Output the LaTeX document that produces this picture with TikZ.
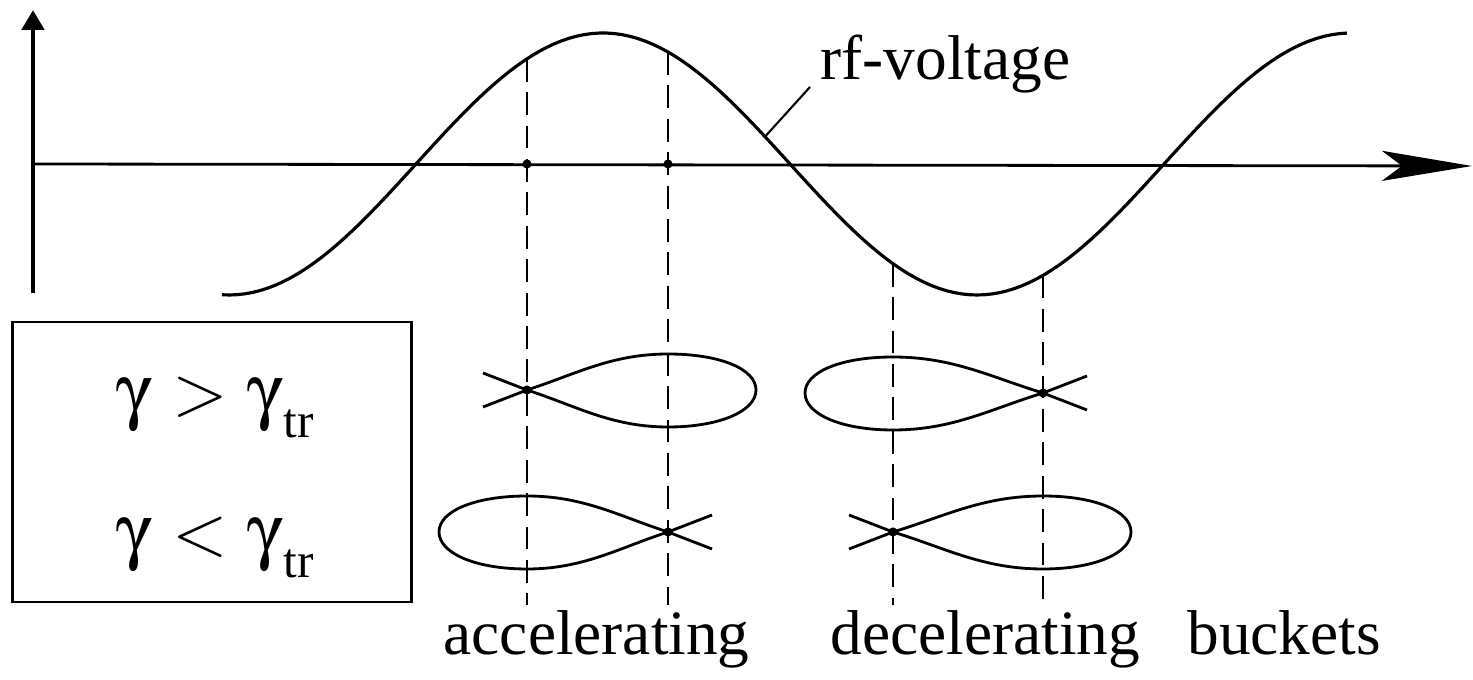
\documentclass[tikz,border=0pt]{standalone}
\usepackage[Symbol]{upgreek}
\usepackage{fontspec}
\setmainfont{Liberation Serif}
\usetikzlibrary{arrows.meta,positioning}
\newcommand{\gtrsub}{\raisebox{-6pt}{\fontsize{14}{14}\selectfont tr}}
\tikzset{
  axisline/.style={line width=0.8pt},
  rfcurve/.style={line width=0.9pt, line join=round},
  dashline/.style={line width=0.8pt, dash pattern=on 6.5pt off 3pt},
  lbl/.style={inner sep=0pt, font=\fontsize{18}{20}\selectfont},
  gam/.style={inner sep=0pt, font=\fontsize{21}{24}\selectfont},
  legbox/.style={draw, line width=0.8pt, minimum width=3.98cm, minimum height=2.8cm},
  pics/bucket/.style={code={
    \draw[line width=0.8pt] (0,0) .. controls (0.35*#1,-16) and (0.6*#1,-36) .. (#1,-36)
      .. controls (#1+52,-36) and (#1+88,-21) .. (#1+88,0)
      .. controls (#1+88,21) and (#1+52,37) .. (#1,37)
      .. controls (0.6*#1,37) and (0.35*#1,16) .. (0,0);
    \draw[line width=0.8pt] (-44,-17) -- (0,0) -- (-44,17);
    \fill (0,0) circle (1.3pt);
  }}
}

\begin{document}
\begin{tikzpicture}[x=0.01cm, y=-0.01cm]
\useasboundingbox (0,0) rectangle (1473,680);

% axes
\coordinate (orig) at (33,164);
\coordinate (ytop) at (33,10);
\coordinate (ybot) at (33,293);
\coordinate (xend) at (1472,166);
\draw[line width=1.4pt, -{Triangle[length=2mm, width=2.2mm]}] (ybot) -- (ytop);
\draw[axisline, -{Stealth[length=9mm, width=3mm, inset=2mm]}] (orig) -- (xend);

% rf voltage
\draw[rfcurve] plot[domain=222:1347, samples=150] (\x, {164-131*sin((\x-416)/748*360)});
\node[lbl, anchor=base west] (rflab) at (820,80) {rf-voltage};
\coordinate (rfpt) at (765, {164-131*sin((765-416)/748*360)});
\draw[line width=0.6pt] ([shift={(-10,7)}]rflab.base west) -- (rfpt);

% bucket edges
\foreach \xd/\nm in {527/acca, 668/accb, 893/deca, 1043/decb}{
  \coordinate (\nm top) at (\xd, {164-131*sin((\xd-416)/748*360)});
  \coordinate (\nm bot) at (\xd, 605);
  \draw[dashline] (\nm top) -- (\nm bot);
}
\foreach \nm in {acca, accb}
  \fill (\nm top |- orig) circle (1.3pt);

\pic at (527,390) {bucket=141};
\pic[xscale=-1] at (668,532) {bucket=141};
\pic[xscale=-1] at (1043,393) {bucket=150};
\pic at (893,532) {bucket=150};

% legend
\node[legbox] (legend) at (212,462) {};
\node[gam, anchor=base] (gtgt) at (215,416) {$\upgamma > \upgamma$\gtrsub};
\node[gam, anchor=base] (gtlt) at (215,556) {$\upgamma < \upgamma$\gtrsub};

\node[lbl, anchor=base west] (accl) at (443,655) {accelerating};
\node[lbl, base right=0.8cm of accl] (decl) {decelerating};
\node[lbl, base right=0.46cm of decl] (bktl) {buckets};
\end{tikzpicture}
\end{document}
